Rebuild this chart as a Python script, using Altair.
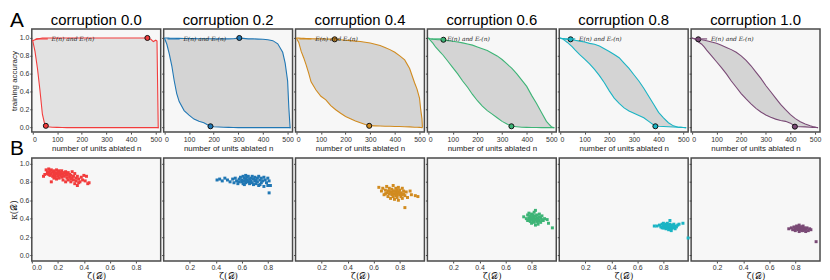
import altair as alt
import pandas as pd

TITLES = ["corruption 0.0", "corruption 0.2", "corruption 0.4",
          "corruption 0.6", "corruption 0.8", "corruption 1.0"]
COLORS = ["#f23c3c", "#2077b4", "#d18b1f", "#3db476", "#1ab4c4", "#7a4a76"]
FILLS = ["#e2e2e2", "#d4d4d4", "#d4d4d4", "#d4d4d4", "#d4d4d4", "#d4d4d4"]
LEGEND_LABEL = "E(n) and Eᵣ(n)"

# number of units ablated
N = [0, 10, 20, 30, 40, 50, 60, 80, 100, 120, 140, 160, 180, 200, 220, 240, 260,
     280, 300, 320, 340, 360, 380, 400, 420, 440, 460, 480, 490, 500, 505, 510, 512]

UPPER_00 = [0.97, 0.98, 0.99, 0.995, 1.0, 1.0, 1.0, 1.0, 0.998, 1.0, 1.0, 0.999, 1.0, 1.0, 1.0, 1.0, 0.999,
            1.0, 1.0, 1.0, 0.999, 1.0, 1.0, 1.0, 0.999, 1.0, 1.0, 0.985, 0.96, 0.975, 0.965, 0.0, 0.0]
LOWER_00 = [0.98, 0.85, 0.66, 0.42, 0.15, 0.03, 0.01, 0.005, 0.003, 0.002, 0.0, 0.0, 0.0, 0.0, 0.0, 0.0, 0.0,
            0.0, 0.0, 0.0, 0.0, 0.0, 0.0, 0.0, 0.0, 0.0, 0.0, 0.0, 0.0, 0.0, 0.0, 0.0, 0.0]
UPPER_02 = [1.0, 1.0, 0.998, 0.997, 0.996, 0.995, 0.995, 0.994, 0.993, 0.993, 0.992, 0.992, 0.991, 0.99, 0.99, 0.99, 0.99,
            0.992, 0.998, 0.995, 0.99, 0.99, 0.987, 0.985, 0.98, 0.97, 0.935, 0.84, 0.72, 0.52, 0.22, 0.0, 0.0]
LOWER_02 = [1.0, 0.93, 0.82, 0.69, 0.52, 0.38, 0.29, 0.19, 0.14, 0.095, 0.07, 0.055, 0.025, 0.01, 0.007, 0.005, 0.003,
            0.002, 0.0, 0.0, 0.0, 0.0, 0.0, 0.0, 0.0, 0.0, 0.0, 0.0, 0.0, 0.0, 0.0, 0.0, 0.0]
UPPER_04 = [1.0, 0.998, 0.996, 0.995, 0.994, 0.993, 0.992, 0.99, 0.99, 0.988, 0.987, 0.985, 0.98, 0.975, 0.97, 0.965, 0.96,
            0.952, 0.943, 0.93, 0.915, 0.895, 0.87, 0.84, 0.80, 0.755, 0.66, 0.50, 0.43, 0.33, 0.20, 0.10, 0.0]
LOWER_04 = [1.0, 0.95, 0.85, 0.78, 0.70, 0.61, 0.51, 0.42, 0.35, 0.31, 0.245, 0.20, 0.16, 0.125, 0.10, 0.075, 0.055,
            0.035, 0.022, 0.02, 0.018, 0.016, 0.015, 0.013, 0.012, 0.01, 0.008, 0.005, 0.004, 0.003, 0.002, 0.0, 0.0]
UPPER_06 = [1.0, 0.99, 0.985, 0.983, 0.981, 0.98, 0.978, 0.97, 0.963, 0.955, 0.945, 0.932, 0.92, 0.90, 0.88, 0.86, 0.83,
            0.80, 0.76, 0.71, 0.66, 0.60, 0.53, 0.46, 0.36, 0.27, 0.17, 0.07, 0.04, 0.01, 0.005, 0.0, 0.0]
LOWER_06 = [1.0, 0.97, 0.94, 0.90, 0.87, 0.84, 0.81, 0.74, 0.67, 0.60, 0.52, 0.45, 0.37, 0.30, 0.24, 0.19, 0.15,
            0.11, 0.07, 0.04, 0.015, 0.01, 0.005, 0.003, 0.002, 0.001, 0.0, 0.0, 0.0, 0.0, 0.0, 0.0, 0.0]
UPPER_08 = [1.0, 0.995, 0.99, 0.987, 0.985, 0.98, 0.975, 0.965, 0.955, 0.94, 0.93, 0.91, 0.88, 0.85, 0.815, 0.78, 0.72,
            0.66, 0.59, 0.52, 0.44, 0.35, 0.26, 0.17, 0.11, 0.055, 0.02, 0.005, 0.003, 0.001, 0.0, 0.0, 0.0]
LOWER_08 = [1.0, 0.99, 0.97, 0.95, 0.925, 0.90, 0.87, 0.815, 0.765, 0.71, 0.65, 0.58, 0.50, 0.41, 0.33, 0.27, 0.22,
            0.185, 0.16, 0.135, 0.11, 0.07, 0.03, 0.015, 0.012, 0.01, 0.007, 0.004, 0.003, 0.002, 0.001, 0.0, 0.0]
UPPER_10 = [1.0, 0.995, 0.99, 0.985, 0.98, 0.975, 0.97, 0.955, 0.94, 0.92, 0.895, 0.87, 0.84, 0.80, 0.75, 0.69, 0.62,
            0.55, 0.47, 0.40, 0.33, 0.26, 0.20, 0.145, 0.10, 0.065, 0.04, 0.02, 0.012, 0.006, 0.003, 0.001, 0.0]
LOWER_10 = [1.0, 0.99, 0.97, 0.95, 0.93, 0.90, 0.865, 0.80, 0.735, 0.67, 0.60, 0.52, 0.45, 0.38, 0.32, 0.265, 0.215,
            0.175, 0.14, 0.115, 0.095, 0.08, 0.07, 0.05, 0.012, 0.01, 0.008, 0.005, 0.003, 0.002, 0.001, 0.0, 0.0]

UPPERS = [UPPER_00, UPPER_02, UPPER_04, UPPER_06, UPPER_08, UPPER_10]
LOWERS = [LOWER_00, LOWER_02, LOWER_04, LOWER_06, LOWER_08, LOWER_10]

# marked points on the curves
DOT_N_UP = [466, 304, 156, 62, 43, 26]
DOT_V_UP = [1.0, 1.0, 0.985, 0.98, 0.985, 0.985]
DOT_N_LO = [54, 187, 296, 338, 387, 418]
DOT_V_LO = [0.02, 0.015, 0.02, 0.015, 0.015, 0.011]

# panel B scatter: zeta(D), kappa(D)
ZETA_00 = [0.10, 0.11, 0.12, 0.12, 0.13, 0.13, 0.14, 0.14, 0.15, 0.15, 0.15, 0.16, 0.16, 0.17, 0.17, 0.17, 0.18, 0.18,
           0.19, 0.19, 0.19, 0.20, 0.20, 0.21, 0.21, 0.21, 0.22, 0.22, 0.23, 0.23, 0.23, 0.24, 0.24, 0.25, 0.25, 0.26,
           0.26, 0.27, 0.27, 0.28, 0.28, 0.29, 0.29, 0.30, 0.30, 0.31, 0.31, 0.32, 0.32, 0.33, 0.33, 0.34, 0.34, 0.35,
           0.35, 0.36, 0.37, 0.38, 0.39, 0.40, 0.41, 0.42, 0.43, 0.44, 0.09, 0.18, 0.26, 0.30, 0.36, 0.13]
KAPPA_00 = [0.88, 0.93, 0.91, 0.89, 0.94, 0.90, 0.87, 0.92, 0.89, 0.93, 0.80, 0.91, 0.86, 0.88, 0.92, 0.84, 0.90, 0.87,
            0.93, 0.89, 0.83, 0.91, 0.86, 0.88, 0.92, 0.84, 0.90, 0.87, 0.89, 0.85, 0.92, 0.88, 0.82, 0.90, 0.86, 0.88,
            0.91, 0.84, 0.87, 0.90, 0.82, 0.88, 0.85, 0.87, 0.80, 0.91, 0.84, 0.86, 0.82, 0.89, 0.78, 0.84, 0.81, 0.86,
            0.76, 0.83, 0.80, 0.85, 0.82, 0.87, 0.81, 0.86, 0.78, 0.79, 0.86, 0.85, 0.80, 0.83, 0.79, 0.88]
ZETA_02 = [0.41, 0.43, 0.45, 0.47, 0.49, 0.51, 0.53, 0.54, 0.55, 0.56, 0.57, 0.58, 0.59, 0.60, 0.60, 0.61, 0.61, 0.62,
           0.62, 0.63, 0.63, 0.63, 0.64, 0.64, 0.65, 0.65, 0.66, 0.66, 0.67, 0.67, 0.68, 0.68, 0.69, 0.69, 0.70, 0.70,
           0.71, 0.71, 0.72, 0.72, 0.73, 0.73, 0.74, 0.75, 0.75, 0.76, 0.77, 0.77, 0.78, 0.79, 0.80, 0.80, 0.81, 0.82,
           0.81, 0.66, 0.62, 0.58, 0.74, 0.64]
KAPPA_02 = [0.82, 0.83, 0.81, 0.84, 0.82, 0.80, 0.83, 0.79, 0.84, 0.81, 0.78, 0.83, 0.85, 0.80, 0.82, 0.86, 0.78, 0.84,
            0.81, 0.87, 0.83, 0.79, 0.85, 0.82, 0.80, 0.86, 0.83, 0.78, 0.84, 0.81, 0.86, 0.79, 0.83, 0.77, 0.85, 0.81,
            0.82, 0.78, 0.84, 0.80, 0.86, 0.76, 0.82, 0.79, 0.84, 0.81, 0.85, 0.75, 0.82, 0.79, 0.84, 0.76, 0.81, 0.76,
            0.68, 0.80, 0.77, 0.80, 0.77, 0.81]
ZETA_04 = [0.64, 0.66, 0.67, 0.68, 0.69, 0.70, 0.70, 0.71, 0.71, 0.72, 0.72, 0.73, 0.73, 0.74, 0.74, 0.75, 0.75, 0.75,
           0.76, 0.76, 0.77, 0.77, 0.77, 0.78, 0.78, 0.78, 0.79, 0.79, 0.79, 0.80, 0.80, 0.81, 0.81, 0.82, 0.82, 0.83,
           0.83, 0.84, 0.84, 0.85, 0.86, 0.88, 0.89, 0.92, 0.94, 0.72, 0.76, 0.80, 0.74, 0.78, 0.82, 0.69]
KAPPA_04 = [0.74, 0.70, 0.73, 0.66, 0.71, 0.68, 0.75, 0.64, 0.70, 0.67, 0.73, 0.62, 0.69, 0.66, 0.72, 0.64, 0.70, 0.76,
            0.67, 0.61, 0.69, 0.73, 0.65, 0.71, 0.63, 0.67, 0.69, 0.74, 0.60, 0.66, 0.71, 0.64, 0.68, 0.73, 0.62, 0.67,
            0.70, 0.65, 0.52, 0.69, 0.63, 0.70, 0.66, 0.65, 0.64, 0.70, 0.70, 0.68, 0.68, 0.66, 0.66, 0.67]
ZETA_06 = [0.74, 0.76, 0.77, 0.77, 0.78, 0.78, 0.79, 0.79, 0.80, 0.80, 0.80, 0.81, 0.81, 0.82, 0.82, 0.82, 0.83, 0.83,
           0.83, 0.84, 0.84, 0.84, 0.85, 0.85, 0.86, 0.86, 0.87, 0.87, 0.88, 0.88, 0.89, 0.90, 0.92, 0.93, 0.96, 0.79,
           0.81, 0.83, 0.85, 0.86, 0.80, 0.84, 0.82]
KAPPA_06 = [0.42, 0.40, 0.44, 0.38, 0.41, 0.46, 0.37, 0.43, 0.40, 0.45, 0.35, 0.42, 0.38, 0.47, 0.41, 0.36, 0.43, 0.39,
            0.49, 0.41, 0.37, 0.44, 0.40, 0.34, 0.42, 0.38, 0.41, 0.36, 0.39, 0.43, 0.38, 0.40, 0.39, 0.35, 0.30, 0.39,
            0.44, 0.33, 0.37, 0.45, 0.41, 0.39, 0.39]
ZETA_08 = [0.73, 0.75, 0.77, 0.78, 0.79, 0.79, 0.80, 0.80, 0.81, 0.81, 0.82, 0.82, 0.82, 0.83, 0.83, 0.84, 0.84, 0.84,
           0.85, 0.85, 0.85, 0.86, 0.86, 0.86, 0.87, 0.87, 0.88, 0.88, 0.89, 0.89, 0.90, 0.91, 0.92, 0.95, 0.99, 0.83,
           0.81, 0.87, 0.84, 0.80]
KAPPA_08 = [0.32, 0.32, 0.33, 0.31, 0.34, 0.30, 0.32, 0.35, 0.30, 0.33, 0.31, 0.34, 0.29, 0.32, 0.35, 0.30, 0.33, 0.28,
            0.31, 0.38, 0.34, 0.32, 0.29, 0.27, 0.33, 0.30, 0.31, 0.34, 0.32, 0.29, 0.31, 0.33, 0.34, 0.35, 0.19, 0.30,
            0.32, 0.32, 0.32, 0.30]
ZETA_10 = [0.75, 0.77, 0.78, 0.79, 0.80, 0.80, 0.81, 0.81, 0.82, 0.82, 0.83, 0.83, 0.83, 0.84, 0.84, 0.85, 0.85, 0.86,
           0.86, 0.87, 0.87, 0.88, 0.88, 0.89, 0.90, 0.91, 0.92, 0.96, 0.82, 0.85, 0.84, 0.86]
KAPPA_10 = [0.29, 0.30, 0.28, 0.31, 0.29, 0.27, 0.32, 0.30, 0.28, 0.31, 0.29, 0.33, 0.26, 0.30, 0.28, 0.31, 0.27, 0.29,
            0.32, 0.28, 0.30, 0.29, 0.26, 0.30, 0.27, 0.29, 0.28, 0.15, 0.30, 0.29, 0.31, 0.27]

ZETAS = [ZETA_00, ZETA_02, ZETA_04, ZETA_06, ZETA_08, ZETA_10]
KAPPAS = [KAPPA_00, KAPPA_02, KAPPA_04, KAPPA_06, KAPPA_08, KAPPA_10]

FONT = "Liberation Sans"
W = 130
H_TOP = 104
H_BOT = 104


def top_panel(i):
    df = pd.DataFrame({"n": N, "upper": UPPERS[i], "lower": LOWERS[i], "label": LEGEND_LABEL})
    xs = alt.Scale(domain=[-3, 520], nice=False, zero=False)
    ys = alt.Scale(domain=[-0.05, 1.1], nice=False, zero=False)
    xax = alt.Axis(values=[0, 100, 200, 300, 400, 500], title="number of units ablated n",
                   titlePadding=3)
    yargs = dict(values=[0, 0.2, 0.4, 0.6, 0.8, 1.0], format=".1f")
    if i == 0:
        yargs.update(title="training accuracy", titlePadding=1)
    else:
        yargs.update(title="", labels=False)
    yax = alt.Axis(**yargs)
    base = alt.Chart(df)
    area = base.mark_area(color=FILLS[i], opacity=1).encode(
        x=alt.X("n:Q", scale=xs, axis=xax),
        y=alt.Y("lower:Q", scale=ys, axis=yax),
        y2="upper:Q",
    )
    col = alt.Color("label:N", scale=alt.Scale(range=[COLORS[i]]),
                    legend=alt.Legend(orient="top-left", title=None, labelFont="DejaVu Serif",
                                      labelFontStyle="italic", labelFontSize=6, labelColor="#222",
                                      symbolSize=150, symbolStrokeWidth=1.2, offset=2, padding=1,
                                      labelOffset=3))
    l_up = base.mark_line(strokeWidth=1.1).encode(
        x=alt.X("n:Q", scale=xs, axis=xax), y=alt.Y("upper:Q", scale=ys, axis=yax), color=col)
    l_lo = base.mark_line(strokeWidth=1.1).encode(
        x=alt.X("n:Q", scale=xs, axis=xax), y=alt.Y("lower:Q", scale=ys, axis=yax), color=col)
    ddf = pd.DataFrame({"n": [DOT_N_UP[i], DOT_N_LO[i]], "v": [DOT_V_UP[i], DOT_V_LO[i]]})
    dots = alt.Chart(ddf).mark_circle(size=26, color=COLORS[i], stroke="#111", strokeWidth=1,
                                      opacity=1).encode(
        x=alt.X("n:Q", scale=xs, axis=xax), y=alt.Y("v:Q", scale=ys, axis=yax))
    layers = [area, l_up, l_lo, dots]
    tparams = dict(fontSize=15, font=FONT, fontWeight="normal", color="black", offset=1)
    if i == 0:
        tparams["dy"] = 19
        layers.append(alt.Chart(ddf.head(1)).mark_text(text="A", fontSize=21, font=FONT, align="left",
                                                       baseline="alphabetic", color="black").encode(
            x=alt.value(-22), y=alt.value(-2)))
    return alt.layer(*layers).properties(
        width=W, height=H_TOP, title=alt.TitleParams(TITLES[i], **tparams))


def bottom_panel(i):
    df = pd.DataFrame({"zeta": ZETAS[i], "kappa": KAPPAS[i]})
    xs = alt.Scale(domain=[0.0, 0.99], nice=False, zero=False)
    ys = alt.Scale(domain=[-0.06, 1.06], nice=False, zero=False)
    xvals = [0.0, 0.2, 0.4, 0.6, 0.8] if i == 0 else [0.2, 0.4, 0.6, 0.8]
    xax = alt.Axis(values=xvals, format=".1f", title="ζ(𝒟)", titlePadding=1, labelFlush=True,
                   titleFontSize=9, titleFont="DejaVu Serif")
    yargs = dict(values=[0, 0.2, 0.4, 0.6, 0.8, 1.0], format=".1f")
    if i == 0:
        yargs.update(title="κ(𝒟)", titlePadding=1, titleFontSize=9, titleFont="DejaVu Serif")
    else:
        yargs.update(title="", labels=False)
    pts = alt.Chart(df).mark_square(size=9, color=COLORS[i], opacity=1).encode(
        x=alt.X("zeta:Q", scale=xs, axis=xax),
        y=alt.Y("kappa:Q", scale=ys, axis=alt.Axis(**yargs)),
    )
    layers = [pts]
    if i == 0:
        layers.append(alt.Chart(df.head(1)).mark_text(text="B", fontSize=21, font=FONT, align="left",
                                                      baseline="alphabetic", color="black").encode(
            x=alt.value(-22), y=alt.value(-3)))
    return alt.layer(*layers).properties(width=W, height=H_BOT)


tops = [top_panel(i) for i in range(6)]
bottoms = [bottom_panel(i) for i in range(6)]

chart = alt.concat(*tops, *bottoms, columns=6, spacing=alt.RowColnumber(row=26, column=3),
                   bounds="flush").properties(padding=0).resolve_scale(
    color="independent").resolve_legend(color="independent").configure_axis(
    labelFont=FONT, labelFontSize=7, labelColor="#333", tickColor="#444", tickSize=2,
    labelPadding=1, domain=False, grid=False, titleFont=FONT, titleFontSize=8,
    titleFontWeight="normal", titleColor="#222"
).configure_view(stroke="#4a4a4a", strokeWidth=1.5, fill="#f7f7f7")

chart.save("out.html", embed_options={"renderer": "svg", "actions": False})
